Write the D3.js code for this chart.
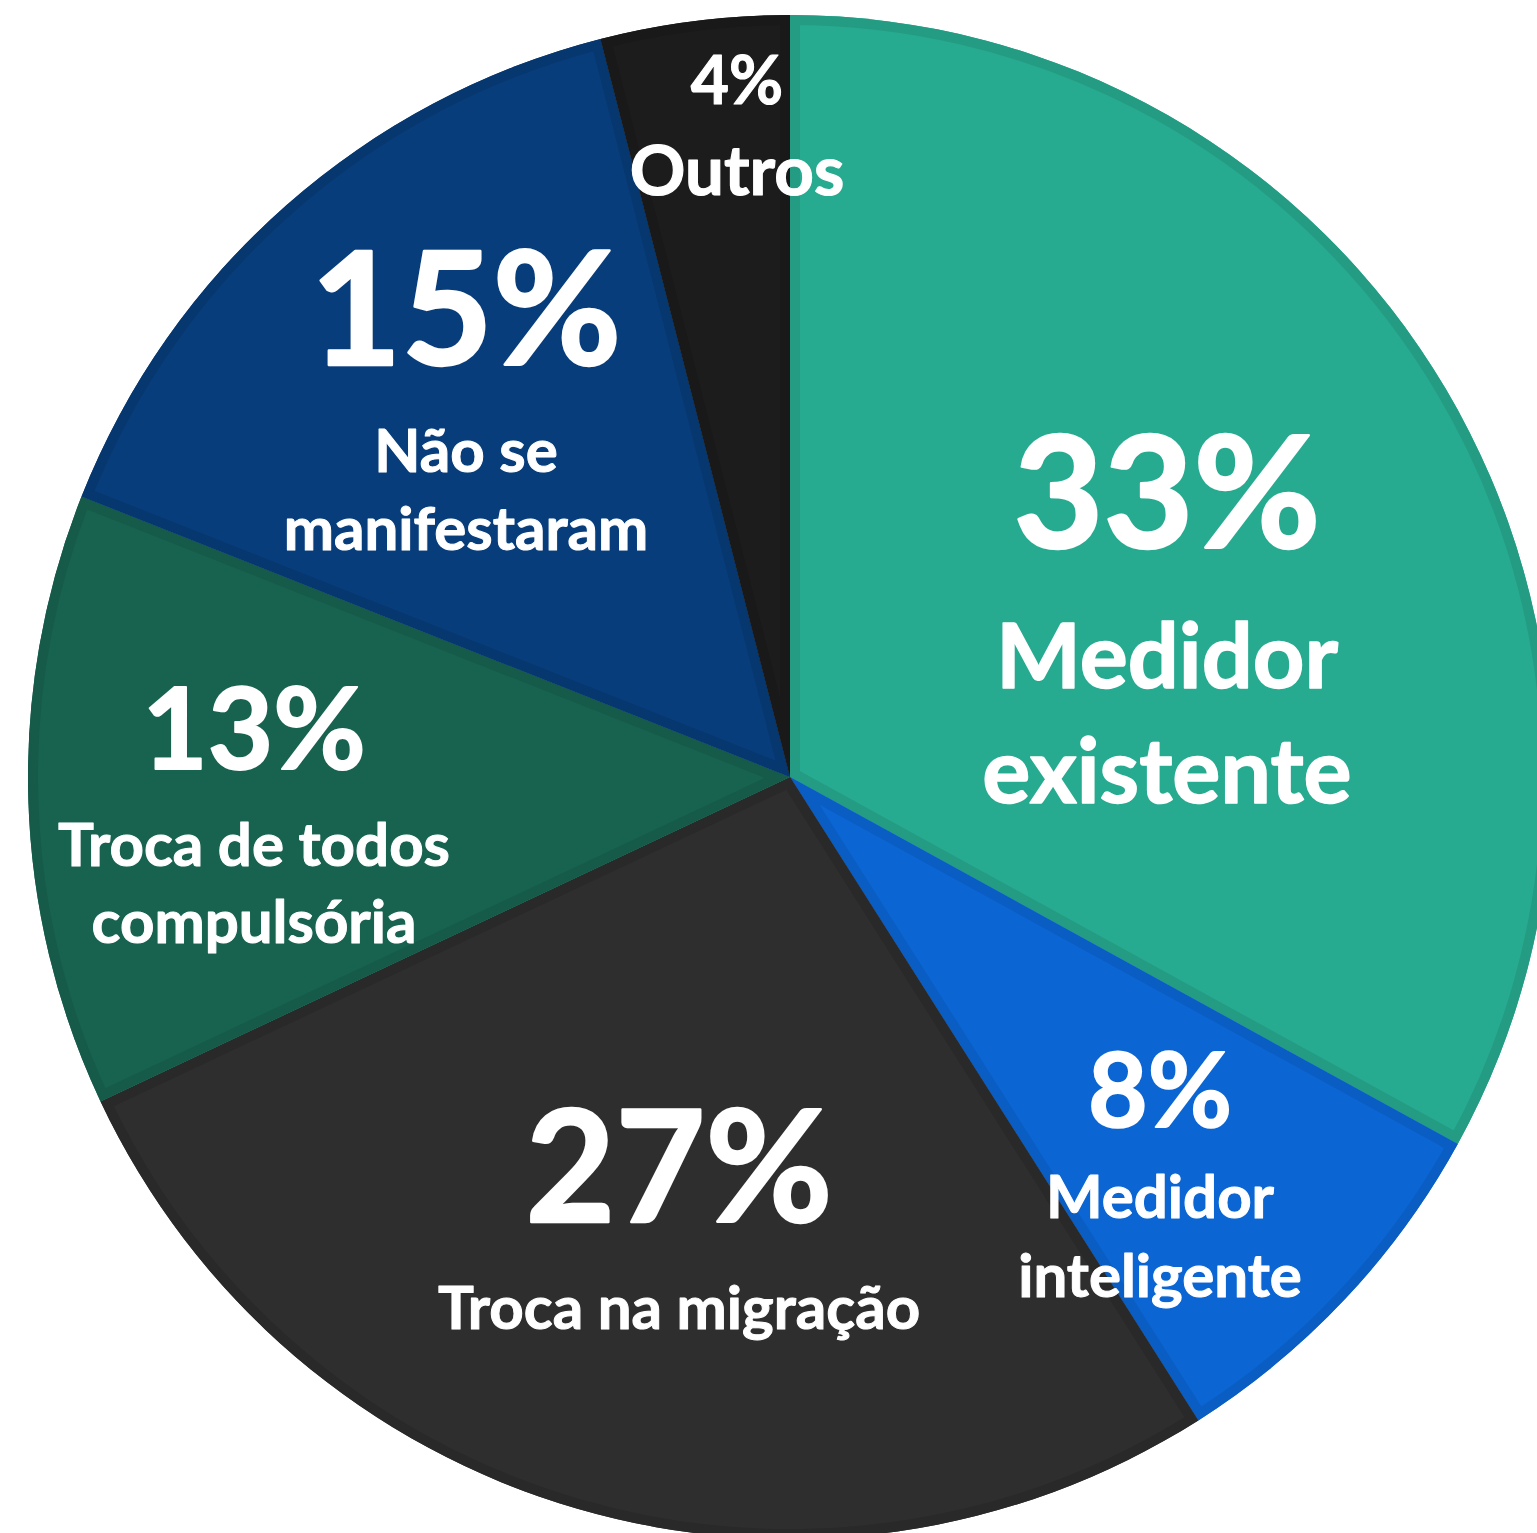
<!DOCTYPE html>
<html>
<head>
<meta charset="utf-8">
<script src="https://cdn.jsdelivr.net/npm/d3@7"></script>
<style>
  html, body { margin: 0; padding: 0; background: #ffffff; }
  svg { display: block; }
  text { font-family: Lato, "Open Sans", sans-serif; font-weight: 700; fill: #ffffff; stroke: #ffffff; stroke-linejoin: round; }
</style>
</head>
<body>
<svg id="chart" width="1537" height="1533"></svg>
<script>
// ---- data ----
const categories = ["Medidor existente", "Medidor inteligente", "Troca na migração",
                    "Troca de todos compulsória", "Não se manifestaram", "Outros"];
const values = [33, 8, 27, 13, 15, 4];
const percentLabels = ["33%", "8%", "27%", "13%", "15%", "4%"];
const nameLines = [["Medidor", "existente"], ["Medidor", "inteligente"], ["Troca na migração"],
                   ["Troca de todos", "compulsória"], ["Não se", "manifestaram"], ["Outros"]];

// ---- styles / layout ----
const fillColors   = ["#27AB90", "#0B66D4", "#2E2E2E", "#17634F", "#083D7B", "#1C1C1C"];
const borderColors = ["#249C84", "#0A5DC3", "#292929", "#165B49", "#07376F", "#191919"];
const cx = 790, cy = 777, R = 762;
const labelLayout = [
  {x: 1167, pSize: 155, pY: 548,  nSize: 90, nY: [688, 803]},
  {x: 1160, pSize: 103, pY: 1127, nSize: 60, nY: [1218, 1297]},
  {x: 679,  pSize: 155, pY: 1222, nSize: 60, nY: [1329]},
  {x: 254,  pSize: 113, pY: 769,  nSize: 60, nY: [866, 943]},
  {x: 466,  pSize: 157, pY: 365,  nSize: 60, nY: [472, 550]},
  {x: 737,  pSize: 66,  pY: 104,  nSize: 69, nY: [195]}
];

const data = categories.map((c, i) => ({name: c, value: values[i], i}));
const svg = d3.select("#chart");
const g = svg.append("g").attr("transform", `translate(${cx},${cy})`);

const pie = d3.pie().value(d => d.value).sort(null).startAngle(0).endAngle(2 * Math.PI);
const arc = d3.arc().innerRadius(0).outerRadius(R);
const arcs = pie(data);

const defs = svg.append("defs");
arcs.forEach((a, i) => {
  defs.append("clipPath").attr("id", "clip" + i)
    .append("path").attr("d", arc(a));
});

const slices = g.selectAll("g.slice").data(arcs).enter().append("g").attr("class", "slice");
slices.append("path")
  .attr("d", arc)
  .attr("fill", d => fillColors[d.data.i]);
slices.append("path")
  .attr("d", arc)
  .attr("fill", "none")
  .attr("stroke", d => borderColors[d.data.i])
  .attr("stroke-width", 20)
  .attr("stroke-linejoin", "miter")
  .attr("clip-path", d => `url(#clip${d.data.i})`);

// labels
const labels = svg.append("g");
arcs.forEach((a, i) => {
  const L = labelLayout[i];
  labels.append("text")
    .attr("x", L.x).attr("y", L.pY)
    .attr("text-anchor", "middle")
    .attr("font-size", L.pSize)
    .attr("stroke-width", L.pSize / 60)
    .text(percentLabels[i]);
  nameLines[i].forEach((line, k) => {
    labels.append("text")
      .attr("x", L.x).attr("y", L.nY[k])
      .attr("text-anchor", "middle")
      .attr("font-size", L.nSize)
      .attr("stroke-width", L.nSize / 60)
      .text(line);
  });
});
</script>
</body>
</html>
